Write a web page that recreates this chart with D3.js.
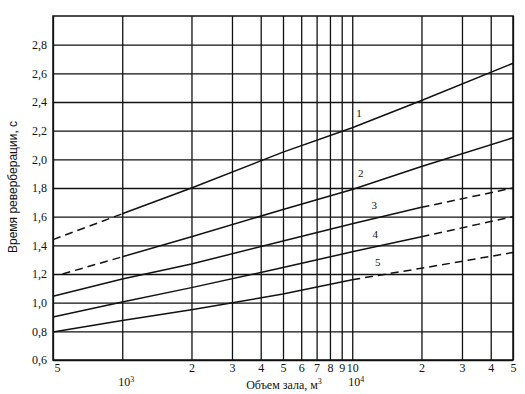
<!DOCTYPE html>
<html>
<head>
<meta charset="utf-8">
<script src="https://cdn.jsdelivr.net/npm/d3@7"></script>
<style>
  html, body { margin: 0; padding: 0; background: #fff; }
  svg { display: block; }
  .tick text { font-family: "Liberation Serif", "DejaVu Serif", serif; font-size: 12px; fill: #111; }
</style>
</head>
<body>
<svg id="chart" width="525" height="394"></svg>
<script>
// ---- data ----
const xTickValues = [500, 1000, 2000, 3000, 4000, 5000, 6000, 7000, 8000, 9000, 10000, 20000, 30000, 40000, 50000];
const xTickLabels = ["5", "", "2", "3", "4", "5", "6", "7", "8", "9", "10", "2", "3", "4", "5"];
const decadeValues = [1000, 10000];
const decadeExponents = ["3", "4"];
const yTickValues = [0.6, 0.8, 1.0, 1.2, 1.4, 1.6, 1.8, 2.0, 2.2, 2.4, 2.6, 2.8];
const yTickLabels = ["0,6", "0,8", "1,0", "1,2", "1,4", "1,6", "1,8", "2,0", "2,2", "2,4", "2,6", "2,8"];

const curve1Dashed = [[500, 1.44], [1000, 1.62]];
const curve1Solid  = [[1000, 1.62], [2000, 1.80], [5000, 2.05], [10000, 2.22], [20000, 2.41], [50000, 2.67]];
const curve2Dashed = [[550, 1.20], [1000, 1.32]];
const curve2Solid  = [[1000, 1.32], [2000, 1.46], [5000, 1.65], [10000, 1.79], [20000, 1.95], [50000, 2.15]];
const curve3Solid  = [[500, 1.045], [1000, 1.165], [2000, 1.27], [5000, 1.43], [10000, 1.55], [20000, 1.665]];
const curve3Dashed = [[20000, 1.665], [50000, 1.80]];
const curve4Solid  = [[500, 0.90], [1000, 1.005], [2000, 1.105], [5000, 1.245], [10000, 1.355], [20000, 1.46]];
const curve4Dashed = [[20000, 1.46], [50000, 1.60]];
const curve5Solid  = [[500, 0.795], [1000, 0.875], [2000, 0.95], [5000, 1.06], [10000, 1.16]];
const curve5Dashed = [[10000, 1.16], [20000, 1.24], [50000, 1.35]];

const curveNames = ["1", "2", "3", "4", "5"];
const curveLabelAnchors = [[10700, 2.32], [10900, 1.905], [12450, 1.68], [12600, 1.48], [12900, 1.28]];

const xTitle = "Объем зала, м";
const xTitleSup = "3";
const yTitle = "Время реверберации, с";

// ---- layout ----
const margin = { left: 53, top: 16, right: 12, bottom: 34 };
const W = 525, H = 394;
const innerW = W - margin.left - margin.right; // 460
const innerH = H - margin.top - margin.bottom; // 344
const ink = "#111";

const svg = d3.select("#chart");
svg.append("rect").attr("width", W).attr("height", H).attr("fill", "#fff");
const g = svg.append("g").attr("transform", `translate(${margin.left},${margin.top})`);

const x = d3.scaleLog().domain([500, 50000]).range([0, innerW]);
const y = d3.scaleLinear().domain([0.6, 3.0]).range([innerH, 0]);

// x axis + vertical grid
const xAxis = d3.axisBottom(x)
  .tickValues(xTickValues)
  .tickSize(-innerH)
  .tickPadding(3)
  .tickFormat((d, i) => xTickLabels[i]);
const gx = g.append("g").attr("transform", `translate(0,${innerH})`).call(xAxis);
gx.select(".domain").remove();
gx.selectAll(".tick line").attr("stroke", ink).attr("stroke-width", 1.3);
gx.selectAll(".tick text").attr("dy", "0.71em");
gx.selectAll(".tick").filter((d, i) => i === 0).select("text").attr("text-anchor", "start").attr("dx", 1);

// decade labels (second row)
const dec = g.append("g");
decadeValues.forEach((v, i) => {
  const t = dec.append("text")
    .attr("x", x(v) + 4)
    .attr("y", innerH + 26)
    .attr("text-anchor", "middle")
    .attr("font-family", "Liberation Serif, serif")
    .attr("font-size", 12)
    .attr("fill", ink)
    .text("10");
  t.append("tspan").attr("dy", -4).attr("font-size", 8).text(decadeExponents[i]);
});

// y axis + horizontal grid
const yAxis = d3.axisLeft(y)
  .tickValues(yTickValues)
  .tickSize(-innerW)
  .tickPadding(6)
  .tickFormat((d, i) => yTickLabels[i]);
const gy = g.append("g").call(yAxis);
gy.select(".domain").remove();
gy.selectAll(".tick line").attr("stroke", ink).attr("stroke-width", 1.3);

// frame
g.append("rect")
  .attr("x", 0).attr("y", 0).attr("width", innerW).attr("height", innerH)
  .attr("fill", "none").attr("stroke", ink).attr("stroke-width", 1.5);

// curves
const line = d3.line().x(d => x(d[0])).y(d => y(d[1]));
const solids = [curve1Solid, curve2Solid, curve3Solid, curve4Solid, curve5Solid];
const dashes = [curve1Dashed, curve2Dashed, curve3Dashed, curve4Dashed, curve5Dashed];
g.append("g").selectAll("path").data(solids).join("path")
  .attr("d", line).attr("fill", "none").attr("stroke", ink).attr("stroke-width", 1.5);
g.append("g").selectAll("path").data(dashes).join("path")
  .attr("d", line).attr("fill", "none").attr("stroke", ink).attr("stroke-width", 1.5)
  .attr("stroke-dasharray", "8,5");

// curve labels
g.append("g").selectAll("text").data(curveNames).join("text")
  .attr("x", (d, i) => x(curveLabelAnchors[i][0]))
  .attr("y", (d, i) => y(curveLabelAnchors[i][1]))
  .attr("dy", "0.35em")
  .attr("text-anchor", "middle")
  .attr("font-family", "Liberation Serif, serif")
  .attr("font-size", 11)
  .attr("fill", ink)
  .text(d => d);

// axis titles
const xt = svg.append("text")
  .attr("x", 284).attr("y", 389)
  .attr("text-anchor", "middle")
  .attr("font-family", "Liberation Serif, serif")
  .attr("font-size", 12)
  .attr("fill", ink)
  .text(xTitle);
xt.append("tspan").attr("dy", -5).attr("font-size", 8).text(xTitleSup);

svg.append("text")
  .attr("transform", "translate(17,187) rotate(-90)")
  .attr("text-anchor", "middle")
  .attr("font-family", "Liberation Sans, Arial, sans-serif")
  .attr("font-size", 12)
  .attr("fill", ink)
  .text(yTitle);
</script>
</body>
</html>
